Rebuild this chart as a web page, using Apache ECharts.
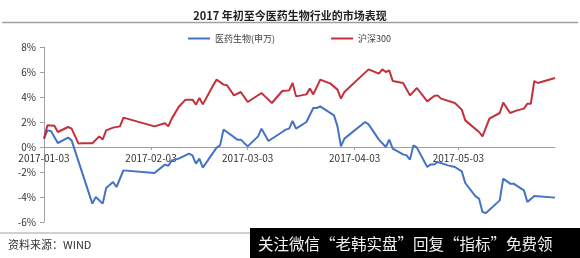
<!DOCTYPE html>
<html>
<head>
<meta charset="utf-8">
<script src="https://cdn.jsdelivr.net/npm/echarts@6/dist/echarts.min.js"></script>
<style>
  html, body { margin: 0; padding: 0; background: #fff; }
  #chart { width: 580px; height: 258px; }
</style>
</head>
<body>
<div id="chart"></div>
<script>
  // 医药生物(申万) vs 沪深300, 2017 YTD, % change
  var hsDates = ['2017-01-03', '2017-01-04', '2017-01-06', '2017-01-07', '2017-01-10', '2017-01-11', '2017-01-13',
    '2017-01-14', '2017-01-17', '2017-01-19', '2017-01-20', '2017-01-21', '2017-01-23', '2017-01-25', '2017-01-26',
    '2017-02-04', '2017-02-07', '2017-02-08', '2017-02-09', '2017-02-11', '2017-02-13', '2017-02-15', '2017-02-16',
    '2017-02-17', '2017-02-18', '2017-02-21', '2017-02-22', '2017-02-24', '2017-02-25', '2017-02-27', '2017-03-01',
    '2017-03-03', '2017-03-07', '2017-03-08', '2017-03-10', '2017-03-13', '2017-03-15', '2017-03-16', '2017-03-17',
    '2017-03-20', '2017-03-21', '2017-03-22', '2017-03-24', '2017-03-27', '2017-03-29', '2017-03-30', '2017-03-31',
    '2017-04-07', '2017-04-10', '2017-04-11', '2017-04-12', '2017-04-13', '2017-04-14', '2017-04-17', '2017-04-19',
    '2017-04-21', '2017-04-24', '2017-04-26', '2017-04-27', '2017-04-28', '2017-05-02', '2017-05-04', '2017-05-05',
    '2017-05-09', '2017-05-10', '2017-05-12', '2017-05-15', '2017-05-16', '2017-05-18', '2017-05-20', '2017-05-22',
    '2017-05-23', '2017-05-24', '2017-05-25', '2017-05-26', '2017-05-31'
  ]
  var hsValues = [0.67, 1.74, 1.70, 1.20, 1.60, 1.47, 0.27,
    0.30, 0.30, 0.85, 0.60, 1.33, 1.55, 1.65, 2.35,
    1.65, 1.90, 1.65, 2.27, 3.20, 3.79, 3.79, 3.39,
    3.92, 3.41, 4.94, 5.39, 4.99, 4.94, 4.13, 4.40,
    3.60, 4.32, 4.05, 3.52, 4.48, 4.53, 5.12, 4.05,
    4.21, 4.67, 4.21, 5.39, 5.07, 4.59, 3.87, 4.40,
    6.21, 5.87, 6.21, 6.00, 6.13, 5.28, 5.12, 4.13,
    4.72, 3.65, 4.08, 4.13, 3.87, 3.52, 2.99, 2.13,
    1.20, 0.85, 2.27, 2.72, 3.55, 2.72, 2.93, 3.07,
    3.47, 3.47, 5.28, 5.12, 5.52
  ]

  var yyDates = ['2017-01-03', '2017-01-04', '2017-01-05', '2017-01-07', '2017-01-10', '2017-01-11', '2017-01-17',
    '2017-01-18', '2017-01-20', '2017-01-21', '2017-01-23', '2017-01-24', '2017-01-26', '2017-02-04', '2017-02-07',
    '2017-02-08', '2017-02-09', '2017-02-11', '2017-02-14', '2017-02-15', '2017-02-16', '2017-02-17', '2017-02-18',
    '2017-02-20', '2017-02-22', '2017-02-23', '2017-02-24', '2017-02-25', '2017-02-28', '2017-03-01', '2017-03-03',
    '2017-03-06', '2017-03-07', '2017-03-09', '2017-03-13', '2017-03-14', '2017-03-15', '2017-03-16', '2017-03-17',
    '2017-03-20', '2017-03-22', '2017-03-23', '2017-03-24', '2017-03-28', '2017-03-29', '2017-03-30', '2017-03-31',
    '2017-04-06', '2017-04-07', '2017-04-10', '2017-04-12', '2017-04-13', '2017-04-14', '2017-04-17', '2017-04-18',
    '2017-04-19', '2017-04-20', '2017-04-21', '2017-04-24', '2017-04-25', '2017-04-26', '2017-04-27', '2017-04-30',
    '2017-05-02', '2017-05-04', '2017-05-05', '2017-05-08', '2017-05-09', '2017-05-10', '2017-05-11', '2017-05-15',
    '2017-05-16', '2017-05-18', '2017-05-19', '2017-05-22', '2017-05-23', '2017-05-25', '2017-05-31'
  ]
  var yyValues = [0.67, 1.33, 1.28, 0.32, 0.75, 0.53, -4.53,
    -4.00, -4.53, -3.28, -2.80, -3.20, -1.87, -2.08, -1.41,
    -1.50, -1.07, -0.93, -0.53, -0.67, -1.33, -0.93, -1.65,
    -0.85, -0.05, 0.13, 1.39, 1.20, 0.59, 0.59, 0.05,
    0.85, 1.47, 0.48, 1.20, 1.39, 1.47, 2.08, 1.47,
    2.00, 3.12, 3.12, 3.25, 2.53, 1.65, 0.05, 0.67,
    2.00, 1.81, 0.59, 0.00, 0.59, -0.13, -0.59, -0.67,
    -1.01, 0.13, -0.05, -1.60, -1.39, -1.39, -1.20, -1.47,
    -1.60, -1.95, -2.88, -3.95, -4.13, -5.20, -5.28, -4.27,
    -2.53, -2.93, -2.93, -3.47, -4.40, -3.92, -4.05
  ]

  var tickDates = ['2017-01-03', '2017-02-03', '2017-03-03', '2017-04-03', '2017-05-03']
  var axisStart = '2017-01-03'
  var axisEnd = '2017-05-31'
  var yMin = -6, yMax = 8, yStep = 2

  var DAY = 86400000
  function toTime(s) {
    var p = s.split('-')
    return Date.UTC(+p[0], +p[1] - 1, +p[2])
  }
  var t0 = toTime(axisStart)
  // x axis counts calendar days from the first date
  function toDay(s) { return Math.round((toTime(s) - t0) / DAY) }
  function dayLabel(n) {
    var d = new Date(t0 + n * DAY)
    var m = d.getUTCMonth() + 1, dd = d.getUTCDate()
    return d.getUTCFullYear() + '-' + (m < 10 ? '0' + m : m) + '-' + (dd < 10 ? '0' + dd : dd)
  }
  function pairs(dates, vals) {
    return dates.map(function (d, i) { return [toDay(d), vals[i]] })
  }

  var font = '"Noto Sans CJK SC", sans-serif'
  var tickDays = tickDates.map(toDay)
  var gridTop = 47, gridBottom = 36
  var plotH = 258 - gridTop - gridBottom
  // lift the date axis up to the 0% line
  var zeroOffset = -plotH * (0 - yMin) / (yMax - yMin)

  var chart = echarts.init(document.getElementById('chart'))
  chart.setOption({
    animation: false,
    textStyle: { fontFamily: font },
    title: {
      text: '2017 年初至今医药生物行业的市场表现',
      left: 'center',
      top: 5,
      textStyle: { fontSize: 11, fontWeight: 'bold', color: '#222', fontFamily: font }
    },
    legend: {
      left: 183,
      top: 29,
      itemGap: 56,
      itemWidth: 22,
      itemHeight: 2,
      icon: 'rect',
      textStyle: { fontSize: 9, color: '#404040' },
      data: ['医药生物(申万)', '沪深300']
    },
    grid: {
      left: 44,
      right: 25,
      top: gridTop,
      bottom: gridBottom
    },
    xAxis: {
      type: 'value',
      min: 0,
      max: toDay(axisEnd),
      position: 'bottom',
      offset: zeroOffset,
      splitLine: { show: false },
      axisLine: { onZero: false, lineStyle: { color: '#A0A0A0', width: 1 } },
      axisTick: { show: true, length: 3, customValues: tickDays, lineStyle: { color: '#A0A0A0' } },
      axisLabel: {
        customValues: tickDays,
        margin: 6,
        fontSize: 10,
        color: '#333',
        formatter: function (v) { return dayLabel(v) }
      }
    },
    yAxis: {
      type: 'value',
      min: yMin,
      max: yMax,
      interval: yStep,
      splitLine: { show: false },
      axisLine: { show: true, onZero: false, lineStyle: { color: '#A0A0A0' } },
      axisTick: { show: true, length: 4, lineStyle: { color: '#A0A0A0' } },
      axisLabel: { formatter: '{value}%', fontSize: 10, color: '#333', margin: 8 }
    },
    series: [{
      name: '医药生物(申万)',
      type: 'line',
      showSymbol: false,
      color: '#4472C4',
      lineStyle: { width: 2, color: '#4472C4' },
      data: pairs(yyDates, yyValues)
    }, {
      name: '沪深300',
      type: 'line',
      showSymbol: false,
      color: '#C3303A',
      lineStyle: { width: 2, color: '#C3303A' },
      data: pairs(hsDates, hsValues)
    }],
    graphic: [{
      type: 'line',
      shape: { x1: 2, y1: 22.5, x2: 578, y2: 22.5 },
      style: { stroke: '#A0A0A0', lineWidth: 1.5 }
    }, {
      type: 'line',
      shape: { x1: 0, y1: 233, x2: 250, y2: 233 },
      style: { stroke: '#D0D0D0', lineWidth: 2 }
    }, {
      type: 'text',
      left: 8,
      top: 239,
      style: { text: '资料来源：WIND', fontSize: 11, fill: '#333', fontFamily: font }
    }, {
      type: 'rect',
      shape: { x: 250, y: 228, width: 330, height: 30 },
      style: { fill: '#000' }
    }, {
      type: 'text',
      left: 258,
      top: 236,
      style: { text: '关注微信“老韩实盘”回复“指标”免费领', fontSize: 15.5, fill: '#f2f2f2', fontFamily: font }
    }]
  })
</script>
</body>
</html>
